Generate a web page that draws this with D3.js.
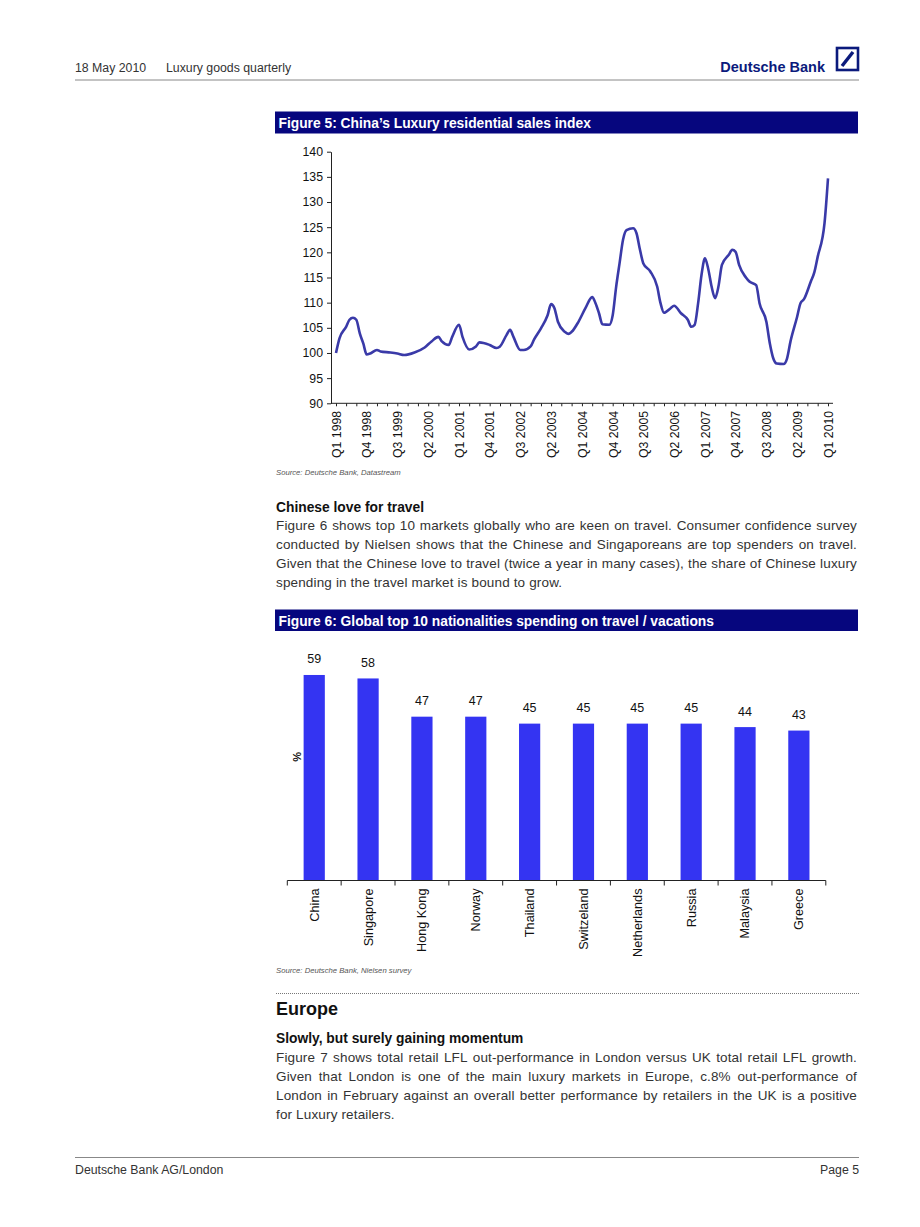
<!DOCTYPE html>
<html><head><meta charset="utf-8">
<script src="https://cdn.jsdelivr.net/npm/d3@7"></script>
<style>body{margin:0;background:#fff}svg{display:block}</style>
</head><body>
<svg id="page" width="920" height="1227"></svg>
<script>
// ---------- Figure 5 data: months since Jan 1998 and index values ----------
const lineMonthIndex = [0,1,3,4,5,6,7,8,9,10,12,13,16,18,20,23,26,28,30,31,33,34,36,37,39,41,42,45,47,48,
  50,51,52,54,55,57,58,60,62,63,64,65,67,68,69,71,73,75,76,77,78,80,81,82,83,84,85,87,88,89,90,92,94,95,96,98,
  99,101,103,104,105,106,107,108,109,110,111,112,113,115,116,117,118,120,121,123,124,126,127,128,129,131,132,133,
  135,136,137,139,140,141,143,144];
const lineValues = [100.0,102.9,105.2,106.6,107.0,106.6,103.9,101.9,99.7,99.9,100.6,100.3,100.1,99.9,99.6,100.1,101.1,102.3,103.2,102.3,101.6,103.2,105.6,103.2,100.7,101.3,102.1,101.6,101.0,101.3,
  103.6,104.6,103.2,100.6,100.6,101.3,102.7,104.9,107.5,109.7,108.9,106.2,104.2,103.8,104.2,106.2,108.9,111.1,109.9,107.9,105.7,105.6,107.5,113.2,117.8,122.5,124.4,124.8,123.8,120.5,117.8,116.2,113.2,109.9,108.0,108.9,
  109.4,107.9,106.6,105.2,105.6,109.9,115.5,118.8,116.5,113.2,110.9,113.2,117.5,119.5,120.5,120.1,117.5,115.0,114.2,113.5,109.9,106.2,101.9,98.9,97.9,97.8,98.9,102.3,
  107.2,109.9,110.7,114.2,116.0,119.1,125.8,134.7];
const yTicks5 = [90,95,100,105,110,115,120,125,130,135,140];
const quarterLabels = ["Q1 1998","Q4 1998","Q3 1999","Q2 2000","Q1 2001","Q4 2001","Q3 2002","Q2 2003","Q1 2004",
  "Q4 2004","Q3 2005","Q2 2006","Q1 2007","Q4 2007","Q3 2008","Q2 2009","Q1 2010"];

// ---------- Figure 6 data ----------
const countries = ["China","Singapore","Hong Kong","Norway","Thailand","Switzeland","Netherlands","Russia","Malaysia","Greece"];
const travelShare = [59,58,47,47,45,45,45,45,44,43];

// ---------- Text ----------
const para1 = ["Figure 6 shows top 10 markets globally who are keen on travel. Consumer confidence survey",
  "conducted by Nielsen shows that the Chinese and Singaporeans are top spenders on travel.",
  "Given that the Chinese love to travel (twice a year in many cases), the share of Chinese luxury",
  "spending in the travel market is bound to grow."];
const para2 = ["Figure 7 shows total retail LFL out-performance in London versus UK total retail LFL growth.",
  "Given that London is one of the main luxury markets in Europe, c.8% out-performance of",
  "London in February against an overall better performance by retailers in the UK is a positive",
  "for Luxury retailers."];

const FONT = "'Liberation Sans', Arial, sans-serif";
const NAVY = "#0b1a7c";
const TITLEBG = "#06067e";
const svg = d3.select("#page").style("font-family", FONT);
svg.append("rect").attr("width",920).attr("height",1227).attr("fill","#fff");

// ---------- Header ----------
const hdr = svg.append("g");
hdr.append("text").attr("x",75).attr("y",72).attr("font-size",12.3).attr("fill","#333").text("18 May 2010");
hdr.append("text").attr("x",166).attr("y",72).attr("font-size",12.3).attr("fill","#333").text("Luxury goods quarterly");
hdr.append("text").attr("x",825).attr("y",72).attr("font-size",14.5).attr("font-weight","bold")
  .attr("text-anchor","end").attr("fill",NAVY).text("Deutsche Bank");
hdr.append("rect").attr("x",837).attr("y",48).attr("width",21).attr("height",22)
  .attr("fill","none").attr("stroke",NAVY).attr("stroke-width",2.6);
hdr.append("line").attr("x1",842).attr("y1",66).attr("x2",853).attr("y2",52)
  .attr("stroke",NAVY).attr("stroke-width",3.4);
hdr.append("line").attr("x1",75).attr("x2",859).attr("y1",80).attr("y2",80).attr("stroke","#888").attr("stroke-width",1);

// ---------- Figure 5 ----------
function titleBar(y, h, label){
  svg.append("rect").attr("x",275).attr("y",y).attr("width",583).attr("height",h).attr("fill",TITLEBG);
  svg.append("text").attr("x",278.5).attr("y",y+h-5.5).attr("font-size",13.8).attr("font-weight","bold")
    .attr("fill","#fff").text(label);
}
titleBar(111.5, 22, "Figure 5: China\u2019s Luxury residential sales index");

const x5 = d3.scaleTime().domain([new Date(1998,0,1), new Date(2010,0,1)]).range([336,828]);
const y5 = d3.scaleLinear().domain([90,140]).range([403.3,151.7]);

const yAx = svg.append("g").attr("transform","translate(331,0)")
  .call(d3.axisLeft(y5).tickValues(yTicks5).tickSize(4).tickSizeOuter(0).tickPadding(4));
yAx.selectAll("text").attr("font-size",12.3).attr("font-family",FONT).attr("fill","#111");
yAx.selectAll("line,path").attr("stroke","#222");

const quarterDates = d3.range(49).map(i => new Date(1998, i*3, 1));
const xAx = svg.append("g").attr("transform","translate(0,403.3)")
  .call(d3.axisBottom(x5).tickValues(quarterDates).tickSize(3).tickSizeOuter(0)
    .tickFormat((d,i) => i % 3 === 0 ? quarterLabels[i/3] : ""));
xAx.select(".domain").remove();
xAx.append("line").attr("x1",331).attr("x2",833).attr("stroke","#222");
xAx.selectAll("line").attr("stroke","#222");
xAx.selectAll("text").attr("transform","rotate(-90)").attr("x",-7.5).attr("y",0).attr("dy","0.35em")
  .style("text-anchor","end").attr("font-size",12.3).attr("font-family",FONT).attr("fill","#111");

const lineData = lineMonthIndex.map((m,i) => ({d:new Date(1998, m, 1), v:lineValues[i]}));
svg.append("path").datum(lineData)
  .attr("d", d3.line().x(p => x5(p.d)).y(p => y5(p.v)).curve(d3.curveMonotoneX))
  .attr("fill","none").attr("stroke","#3a3aa8").attr("stroke-width",2.6).attr("stroke-linejoin","round");

svg.append("text").attr("x",276).attr("y",475).attr("font-size",7.7).attr("font-style","italic")
  .attr("fill","#555").text("Source: Deutsche Bank, Datastream");

// ---------- Paragraph helper ----------
function paragraph(lines, x0, x1, y0, lh, size){
  const g = svg.append("g").attr("font-size",size).attr("fill","#333").attr("letter-spacing",0.15);
  const probe = g.append("text").text("a a");
  const probe2 = g.append("text").text("aa");
  const sp = probe.node().getComputedTextLength() - probe2.node().getComputedTextLength();
  probe.remove(); probe2.remove();
  lines.forEach((ln, li) => {
    const y = y0 + li*lh;
    const words = ln.split(" ");
    const nodes = words.map(w => g.append("text").attr("y",y).text(w));
    const widths = nodes.map(n => n.node().getComputedTextLength());
    const total = d3.sum(widths);
    const last = li === lines.length-1;
    const gap = last ? sp : (x1 - x0 - total)/(words.length-1);
    let x = x0;
    nodes.forEach((n,i) => { n.attr("x", x); x += widths[i] + gap; });
  });
}

svg.append("text").attr("x",276).attr("y",512).attr("font-size",13.8).attr("font-weight","bold")
  .attr("fill","#111").text("Chinese love for travel");
paragraph(para1, 276, 857, 530, 19, 13.5);

// ---------- Figure 6 ----------
titleBar(609.5, 21.5, "Figure 6: Global top 10 nationalities spending on travel / vacations");

const xb = d3.scaleBand().domain(countries).range([287.3, 825.8]).paddingInner(0.606).paddingOuter(0.303);
const yb = d3.scaleLinear().domain([0,70]).range([880, 636.75]);

svg.append("g").selectAll("rect").data(countries).join("rect")
  .attr("x", c => xb(c)).attr("width", xb.bandwidth())
  .attr("y", (c,i) => yb(travelShare[i])).attr("height", (c,i) => yb(0) - yb(travelShare[i]))
  .attr("fill","#3434f2");

svg.append("g").selectAll("text").data(countries).join("text")
  .attr("x", c => xb(c) + xb.bandwidth()/2).attr("y", (c,i) => yb(travelShare[i]) - 11.5)
  .attr("text-anchor","middle").attr("font-size",12.5).attr("fill","#111")
  .text((c,i) => travelShare[i]);

// category axis
const step = xb.step();
const bx0 = 287.3;
const catAx = svg.append("g").attr("transform", `translate(0,${yb(0)+0.5})`);
catAx.append("line").attr("x1",bx0).attr("x2",825.8).attr("stroke","#222");
catAx.selectAll(".tk").data(d3.range(countries.length+1)).join("line").attr("class","tk")
  .attr("x1", i => bx0 + i*step).attr("x2", i => bx0 + i*step).attr("y1",0).attr("y2",5).attr("stroke","#222");
catAx.selectAll(".lb").data(countries).join("text").attr("class","lb")
  .attr("transform", c => `translate(${xb(c)+xb.bandwidth()/2},8) rotate(-90)`)
  .attr("dy","0.35em").attr("text-anchor","end").attr("font-size",12.7).attr("fill","#111").text(c => c);

svg.append("text").attr("transform","translate(297,757) rotate(90)").attr("text-anchor","middle")
  .attr("dy","0.35em").attr("font-size",11).attr("font-weight","bold").attr("fill","#111").text("%");

svg.append("text").attr("x",276).attr("y",973).attr("font-size",7.7).attr("font-style","italic")
  .attr("fill","#555").text("Source: Deutsche Bank, Nielsen survey");

// ---------- Europe section ----------
svg.append("line").attr("x1",276).attr("x2",859).attr("y1",993.5).attr("y2",993.5)
  .attr("stroke","#777").attr("stroke-dasharray","1,1");
svg.append("text").attr("x",276).attr("y",1015).attr("font-size",18).attr("font-weight","bold")
  .attr("fill","#111").text("Europe");
svg.append("text").attr("x",276).attr("y",1043).attr("font-size",13.8).attr("font-weight","bold")
  .attr("fill","#111").text("Slowly, but surely gaining momentum");
paragraph(para2, 276, 857, 1062, 19, 13.5);

// ---------- Footer ----------
svg.append("line").attr("x1",75).attr("x2",859).attr("y1",1157.5).attr("y2",1157.5).attr("stroke","#888");
svg.append("text").attr("x",75).attr("y",1174).attr("font-size",12.3).attr("fill","#333").text("Deutsche Bank AG/London");
svg.append("text").attr("x",859).attr("y",1174).attr("font-size",12.3).attr("text-anchor","end")
  .attr("fill","#333").text("Page 5");
</script>
</body></html>
